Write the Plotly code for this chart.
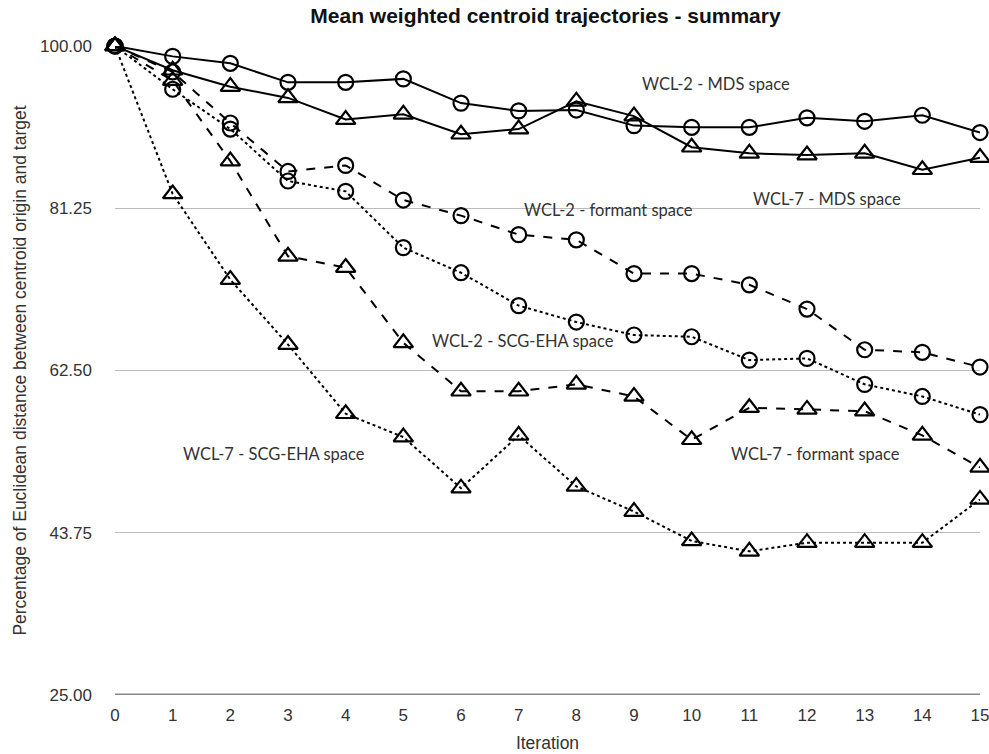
import plotly.graph_objects as go

iterations = list(range(16))

wcl2_mds = [100, 98.8, 98.0, 95.8, 95.8, 96.2, 93.4, 92.5, 92.6, 90.8, 90.6, 90.6, 91.7, 91.3, 92.0, 90.0]
wcl7_mds = [100, 97.2, 95.3, 94.0, 91.5, 92.1, 89.8, 90.4, 93.6, 91.9, 88.3, 87.6, 87.4, 87.6, 85.7, 87.1]
wcl2_formant = [100, 97.0, 91.1, 85.5, 86.2, 82.2, 80.4, 78.2, 77.6, 73.7, 73.7, 72.4, 69.6, 64.9, 64.6, 62.9]
wcl2_scg = [100, 95.0, 90.4, 84.4, 83.2, 76.7, 73.8, 70.0, 68.1, 66.6, 66.4, 63.7, 63.9, 60.9, 59.5, 57.4]
wcl7_formant = [100, 96.0, 86.7, 75.7, 74.4, 65.7, 60.1, 60.1, 60.9, 59.5, 54.5, 58.2, 58.0, 57.8, 55.0, 51.3]
wcl7_scg = [100, 82.9, 73.0, 65.5, 57.5, 54.8, 48.9, 55.0, 49.1, 46.2, 42.8, 41.6, 42.6, 42.6, 42.6, 47.6]

series = [
    ("WCL-2 - MDS space", wcl2_mds, "solid", "circle-open"),
    ("WCL-7 - MDS space", wcl7_mds, "solid", "triangle-up-open"),
    ("WCL-2 - formant space", wcl2_formant, "dash", "circle-open"),
    ("WCL-2 - SCG-EHA space", wcl2_scg, "dot", "circle-open"),
    ("WCL-7 - formant space", wcl7_formant, "dash", "triangle-up-open"),
    ("WCL-7 - SCG-EHA space", wcl7_scg, "dot", "triangle-up-open"),
]

label_pos = {
    "WCL-2 - MDS space": (10.42, 95.6),
    "WCL-7 - MDS space": (12.35, 82.3),
    "WCL-2 - formant space": (8.55, 81.1),
    "WCL-2 - SCG-EHA space": (7.08, 65.9),
    "WCL-7 - SCG-EHA space": (2.75, 52.8),
    "WCL-7 - formant space": (12.14, 52.8),
}

y_ticks = [25.0, 43.75, 62.5, 81.25, 100.0]
y_ticktext = ["25.00", "43.75", "62.50", "81.25", "100.00"]

fig = go.Figure()
for name, vals, dash, sym in series:
    fig.add_trace(go.Scatter(
        x=iterations, y=vals, mode="lines+markers", name=name,
        line=dict(color="black", width=2, dash=dash),
        marker=dict(symbol=sym, size=15 if "circle" in sym else 17,
                    color="black", line=dict(color="black", width=2.2)),
        cliponaxis=False,
    ))

for name, (lx, ly) in label_pos.items():
    fig.add_annotation(x=lx, y=ly, text=name, showarrow=False,
                       font=dict(family="Lato", size=16.5, color="#333333"))

fig.update_layout(
    width=989, height=754,
    margin=dict(l=115, r=9, t=46, b=59, autoexpand=False),
    paper_bgcolor="white", plot_bgcolor="white",
    showlegend=False,
    title=dict(text="<b>Mean weighted centroid trajectories - summary</b>",
               x=545.5 / 989, xanchor="center", y=1 - 8 / 754, yanchor="top",
               font=dict(family="Liberation Sans", size=21, color="#111111")),
    font=dict(family="Liberation Sans", size=17, color="#333333"),
)
fig.update_xaxes(range=[0, 15], tickmode="array", tickvals=iterations,
                 showgrid=False, zeroline=False, showline=False, automargin=False,
                 ticks="", ticklabelstandoff=8, ticklabeloverflow="allow",
                 tickfont=dict(size=17, color="#333333"),
                 title=dict(text="Iteration", font=dict(size=17.5, color="#333333"), standoff=12))
fig.update_yaxes(range=[25, 100], tickmode="array", tickvals=y_ticks, ticktext=y_ticktext,
                 showgrid=True, gridcolor="#bbbbbb", gridwidth=1.2, zeroline=False,
                 showline=False, ticks="", ticklabelstandoff=22, automargin=False,
                 tickfont=dict(size=17, color="#333333"),
                 title=dict(text="Percentage of Euclidean distance between centroid origin and target",
                            font=dict(size=17.5, color="#333333"), standoff=8))
fig.add_shape(type="line", xref="paper", yref="y", x0=0, x1=1, y0=25, y1=25,
              line=dict(color="#888888", width=3), layer="below")
fig.write_html("out.html")
